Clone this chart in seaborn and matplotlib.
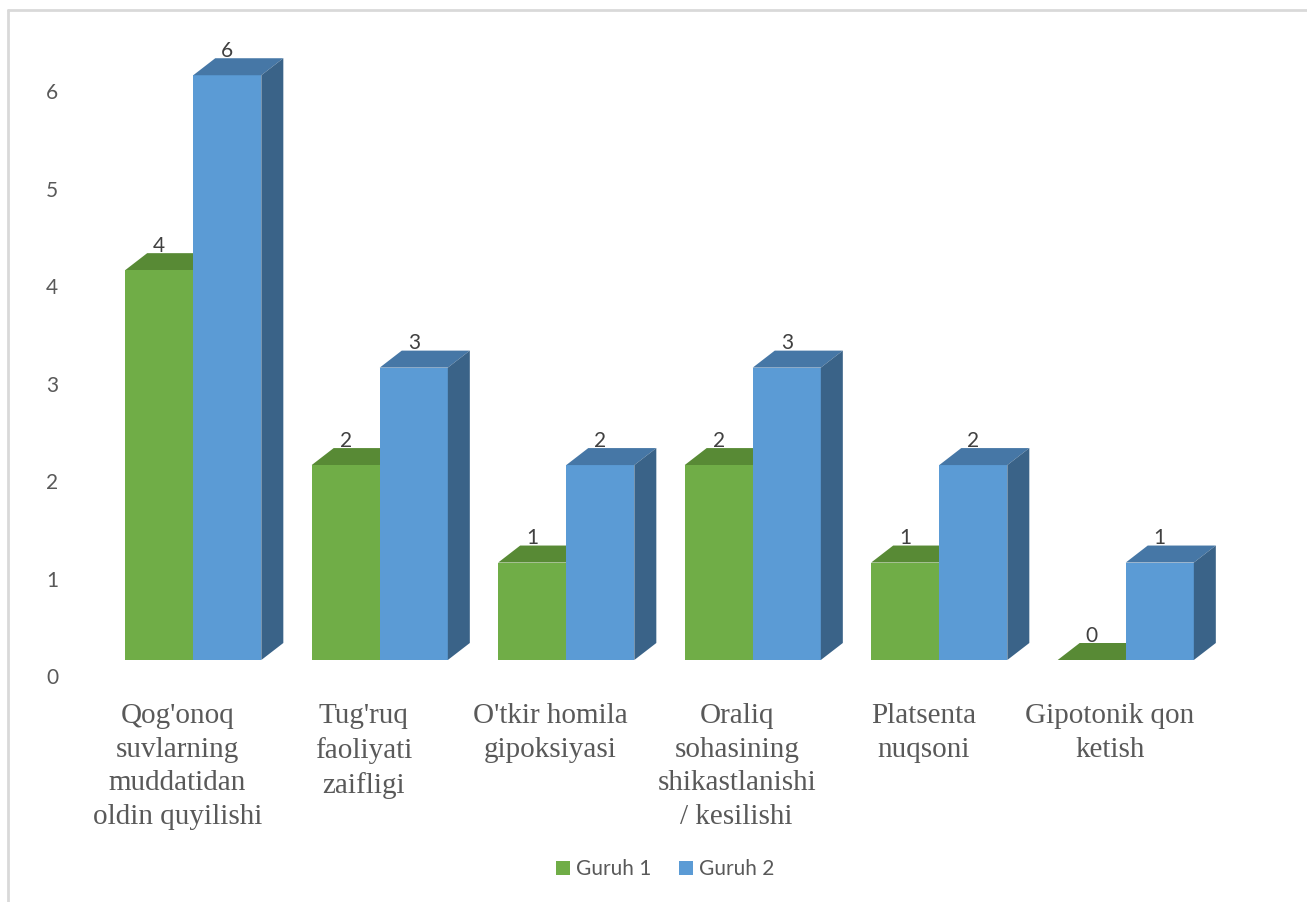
import numpy as np
import pandas as pd
import matplotlib
matplotlib.use("Agg")
import matplotlib.pyplot as plt
from matplotlib.patches import Polygon, Patch
from matplotlib.lines import Line2D
from matplotlib.transforms import ScaledTranslation
import seaborn as sns

categories = [
    "Qog'onoq\nsuvlarning\nmuddatidan\noldin quyilishi",
    "Tug'ruq\nfaoliyati\nzaifligi",
    "O'tkir homila\ngipoksiyasi",
    "Oraliq\nsohasining\nshikastlanishi\n/ kesilishi",
    "Platsenta\nnuqsoni",
    "Gipotonik qon\nketish",
]
series_names = ["Guruh 1", "Guruh 2"]
guruh1 = [4, 2, 1, 2, 1, 0]
guruh2 = [6, 3, 2, 3, 2, 1]
yticks = [0, 1, 2, 3, 4, 5, 6]

front_colors = {"Guruh 1": "#70AD47", "Guruh 2": "#5B9BD5"}
top_colors = {"Guruh 1": "#588A35", "Guruh 2": "#4677A6"}
side_colors = {"Guruh 1": "#4E7A30", "Guruh 2": "#3A6388"}

df = pd.DataFrame({
    "cat": categories * 2,
    "group": [series_names[0]] * len(categories) + [series_names[1]] * len(categories),
    "value": guruh1 + guruh2,
})

sns.set_theme(style="white")
plt.rcParams["font.family"] = ["Lato", "DejaVu Sans"]

W, H, DPI = 1307, 902, 100
fig = plt.figure(figsize=(W / DPI, H / DPI), dpi=DPI)
ax = fig.add_axes([100 / W, (H - 660) / H, (1219 - 100) / W, 614 / H])

sns.barplot(data=df, x="cat", y="value", hue="group", palette=front_colors,
            width=0.73, gap=0, ax=ax, legend=False, saturation=1,
            linewidth=0, zorder=1)

ax.set_xlim(-0.5, 5.5)
ax.set_ylim(0, 6.3)
for s in ax.spines.values():
    s.set_visible(False)
ax.set_xlabel("")
ax.set_ylabel("")
ax.grid(False)

# 3D depth offsets in pixels -> data units
DXP, DYP = 22, 17
p0 = ax.transData.transform((0, 0))
inv = ax.transData.inverted()
dd = inv.transform((p0[0] + DXP, p0[1] + DYP))
dxd, dyd = dd[0], dd[1]

n = len(categories)
for i, bar in enumerate(ax.patches[: 2 * n]):
    grp = series_names[i // n]
    val = (guruh1 + guruh2)[i]
    x0 = bar.get_x()
    w = bar.get_width()
    y1 = bar.get_height()
    z = 0.5 if grp == "Guruh 1" else 2
    top = Polygon([(x0, y1), (x0 + w, y1), (x0 + w + dxd, y1 + dyd), (x0 + dxd, y1 + dyd)],
                  closed=True, facecolor=top_colors[grp], edgecolor="none", zorder=z)
    side = Polygon([(x0 + w, 0), (x0 + w + dxd, dyd), (x0 + w + dxd, y1 + dyd), (x0 + w, y1)],
                   closed=True, facecolor=side_colors[grp], edgecolor="none", zorder=z)
    ax.add_patch(top)
    ax.add_patch(side)
    ax.annotate(f"{val}", (x0 + w / 2, y1 + dyd), xytext=(0, 1), textcoords="offset points",
                ha="center", va="baseline", fontsize=15, color="#404040", zorder=5)

ax.set_yticks(yticks)
ax.set_yticklabels([str(t) for t in yticks])
ax.tick_params(axis="y", length=0, pad=30, labelsize=15, labelcolor="#595959")
ax.tick_params(axis="x", length=0, pad=31, labelsize=21, labelcolor="#595959")
for lab in ax.get_xticklabels():
    lab.set_fontfamily(["Liberation Serif", "DejaVu Serif"])
    lab.set_linespacing(1.38)
    lab.set_transform(lab.get_transform() + ScaledTranslation(-16 / DPI, 0, fig.dpi_scale_trans))
for lab in ax.get_yticklabels():
    lab.set_transform(lab.get_transform() + ScaledTranslation(0, -16 / DPI, fig.dpi_scale_trans))

handles = [Patch(facecolor=front_colors[g], edgecolor="none") for g in series_names]
fig.legend(handles, series_names, loc="center", bbox_to_anchor=(665 / W, 1 - 869 / H),
           ncol=2, frameon=False, fontsize=15, handlelength=0.67, handleheight=0.67,
           handletextpad=0.3, columnspacing=1.3, labelcolor="#595959")

# chart border (top and left visible)
fig.add_artist(Line2D([8 / W, 1.0], [1 - 10 / H, 1 - 10 / H], color="#D9D9D9", lw=2,
                      transform=fig.transFigure))
fig.add_artist(Line2D([8 / W, 8 / W], [1 - 10 / H, 0.0], color="#D9D9D9", lw=2,
                      transform=fig.transFigure))

fig.savefig("out.png", dpi=DPI)
